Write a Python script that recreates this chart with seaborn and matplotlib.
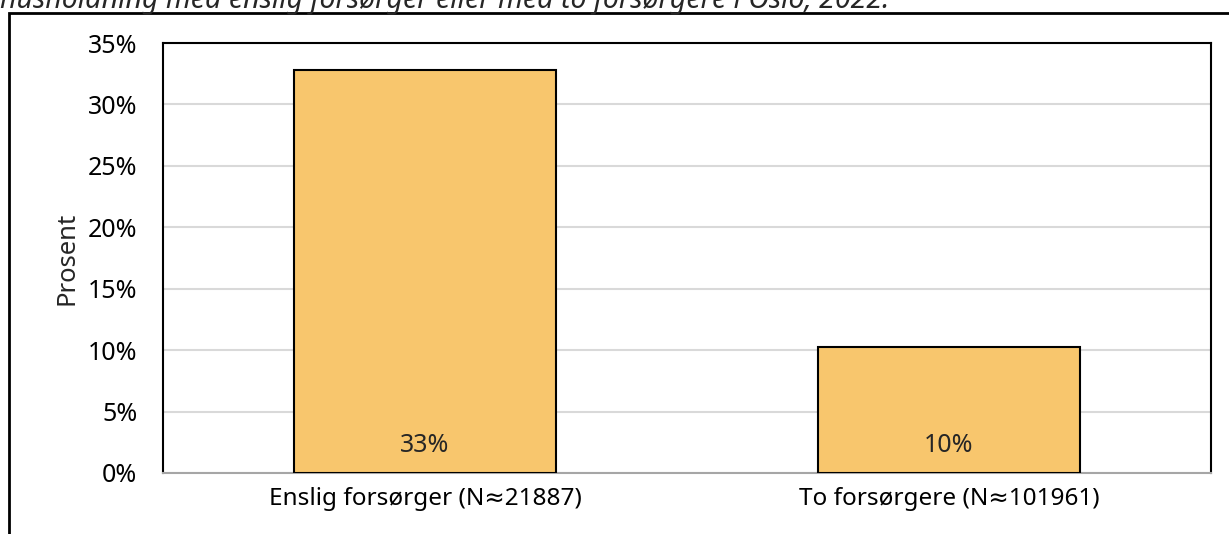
import matplotlib
matplotlib.use("Agg")
import matplotlib.pyplot as plt
import seaborn as sns
import pandas as pd
from matplotlib.patches import Rectangle
from matplotlib.ticker import PercentFormatter

categories = ["Enslig forsørger (N≈21887)", "To forsørgere (N≈101961)"]
values = [32.8, 10.25]
value_labels = ["33%", "10%"]
yticks = [0, 5, 10, 15, 20, 25, 30, 35]
caption = "husholdning med enslig forsørger eller med to forsørgere i Oslo, 2022."

sns.set_theme(style="white")
plt.rcParams["font.family"] = ["Noto Sans", "DejaVu Sans"]

df = pd.DataFrame({"kategori": categories, "prosent": values})

fig = plt.figure(figsize=(12.29, 5.34), dpi=100)
ax = fig.add_axes([163 / 1229, 61 / 534, 1048 / 1229, 430 / 534])

sns.barplot(data=df, x="kategori", y="prosent", color="#F8C66D",
            edgecolor="black", linewidth=1.5, width=0.5, saturation=1, ax=ax, zorder=3)

ax.set_ylim(0, 35)
ax.set_xlim(-0.5, 1.5)
ax.set_yticks(yticks)
ax.yaxis.set_major_formatter(PercentFormatter(decimals=0))
ax.grid(axis="y", color="#D9D9D9", linewidth=1.5, zorder=0)
ax.set_axisbelow(True)
for s in ["left", "top", "right"]:
    ax.spines[s].set_color("black")
    ax.spines[s].set_linewidth(1.5)
ax.spines["bottom"].set_color("#A6A6A6")
ax.spines["bottom"].set_linewidth(1.5)
ax.tick_params(axis="both", length=0, labelsize=17.5, colors="black")
ax.tick_params(axis="y", pad=18.5, labelsize=18)
ax.tick_params(axis="x", pad=10)
ax.set_xlabel("")
ax.set_ylabel("Prosent", fontsize=18.5, labelpad=6)

for i, lab in enumerate(value_labels):
    ax.annotate(lab, (i, 0), xytext=(0, 11), textcoords="offset points",
                ha="center", va="bottom", fontsize=18)

# outer frame
fig.patches.append(Rectangle((9 / 1229, -0.05), 1.2, (534 - 13) / 534 + 0.05,
                             transform=fig.transFigure, fill=False,
                             edgecolor="black", linewidth=2, zorder=0))

fig.text(0 / 1229, (534 - 8) / 534, caption, ha="left", va="baseline",
         fontsize=20.5, style="italic")

fig.savefig("out.png", dpi=100)
